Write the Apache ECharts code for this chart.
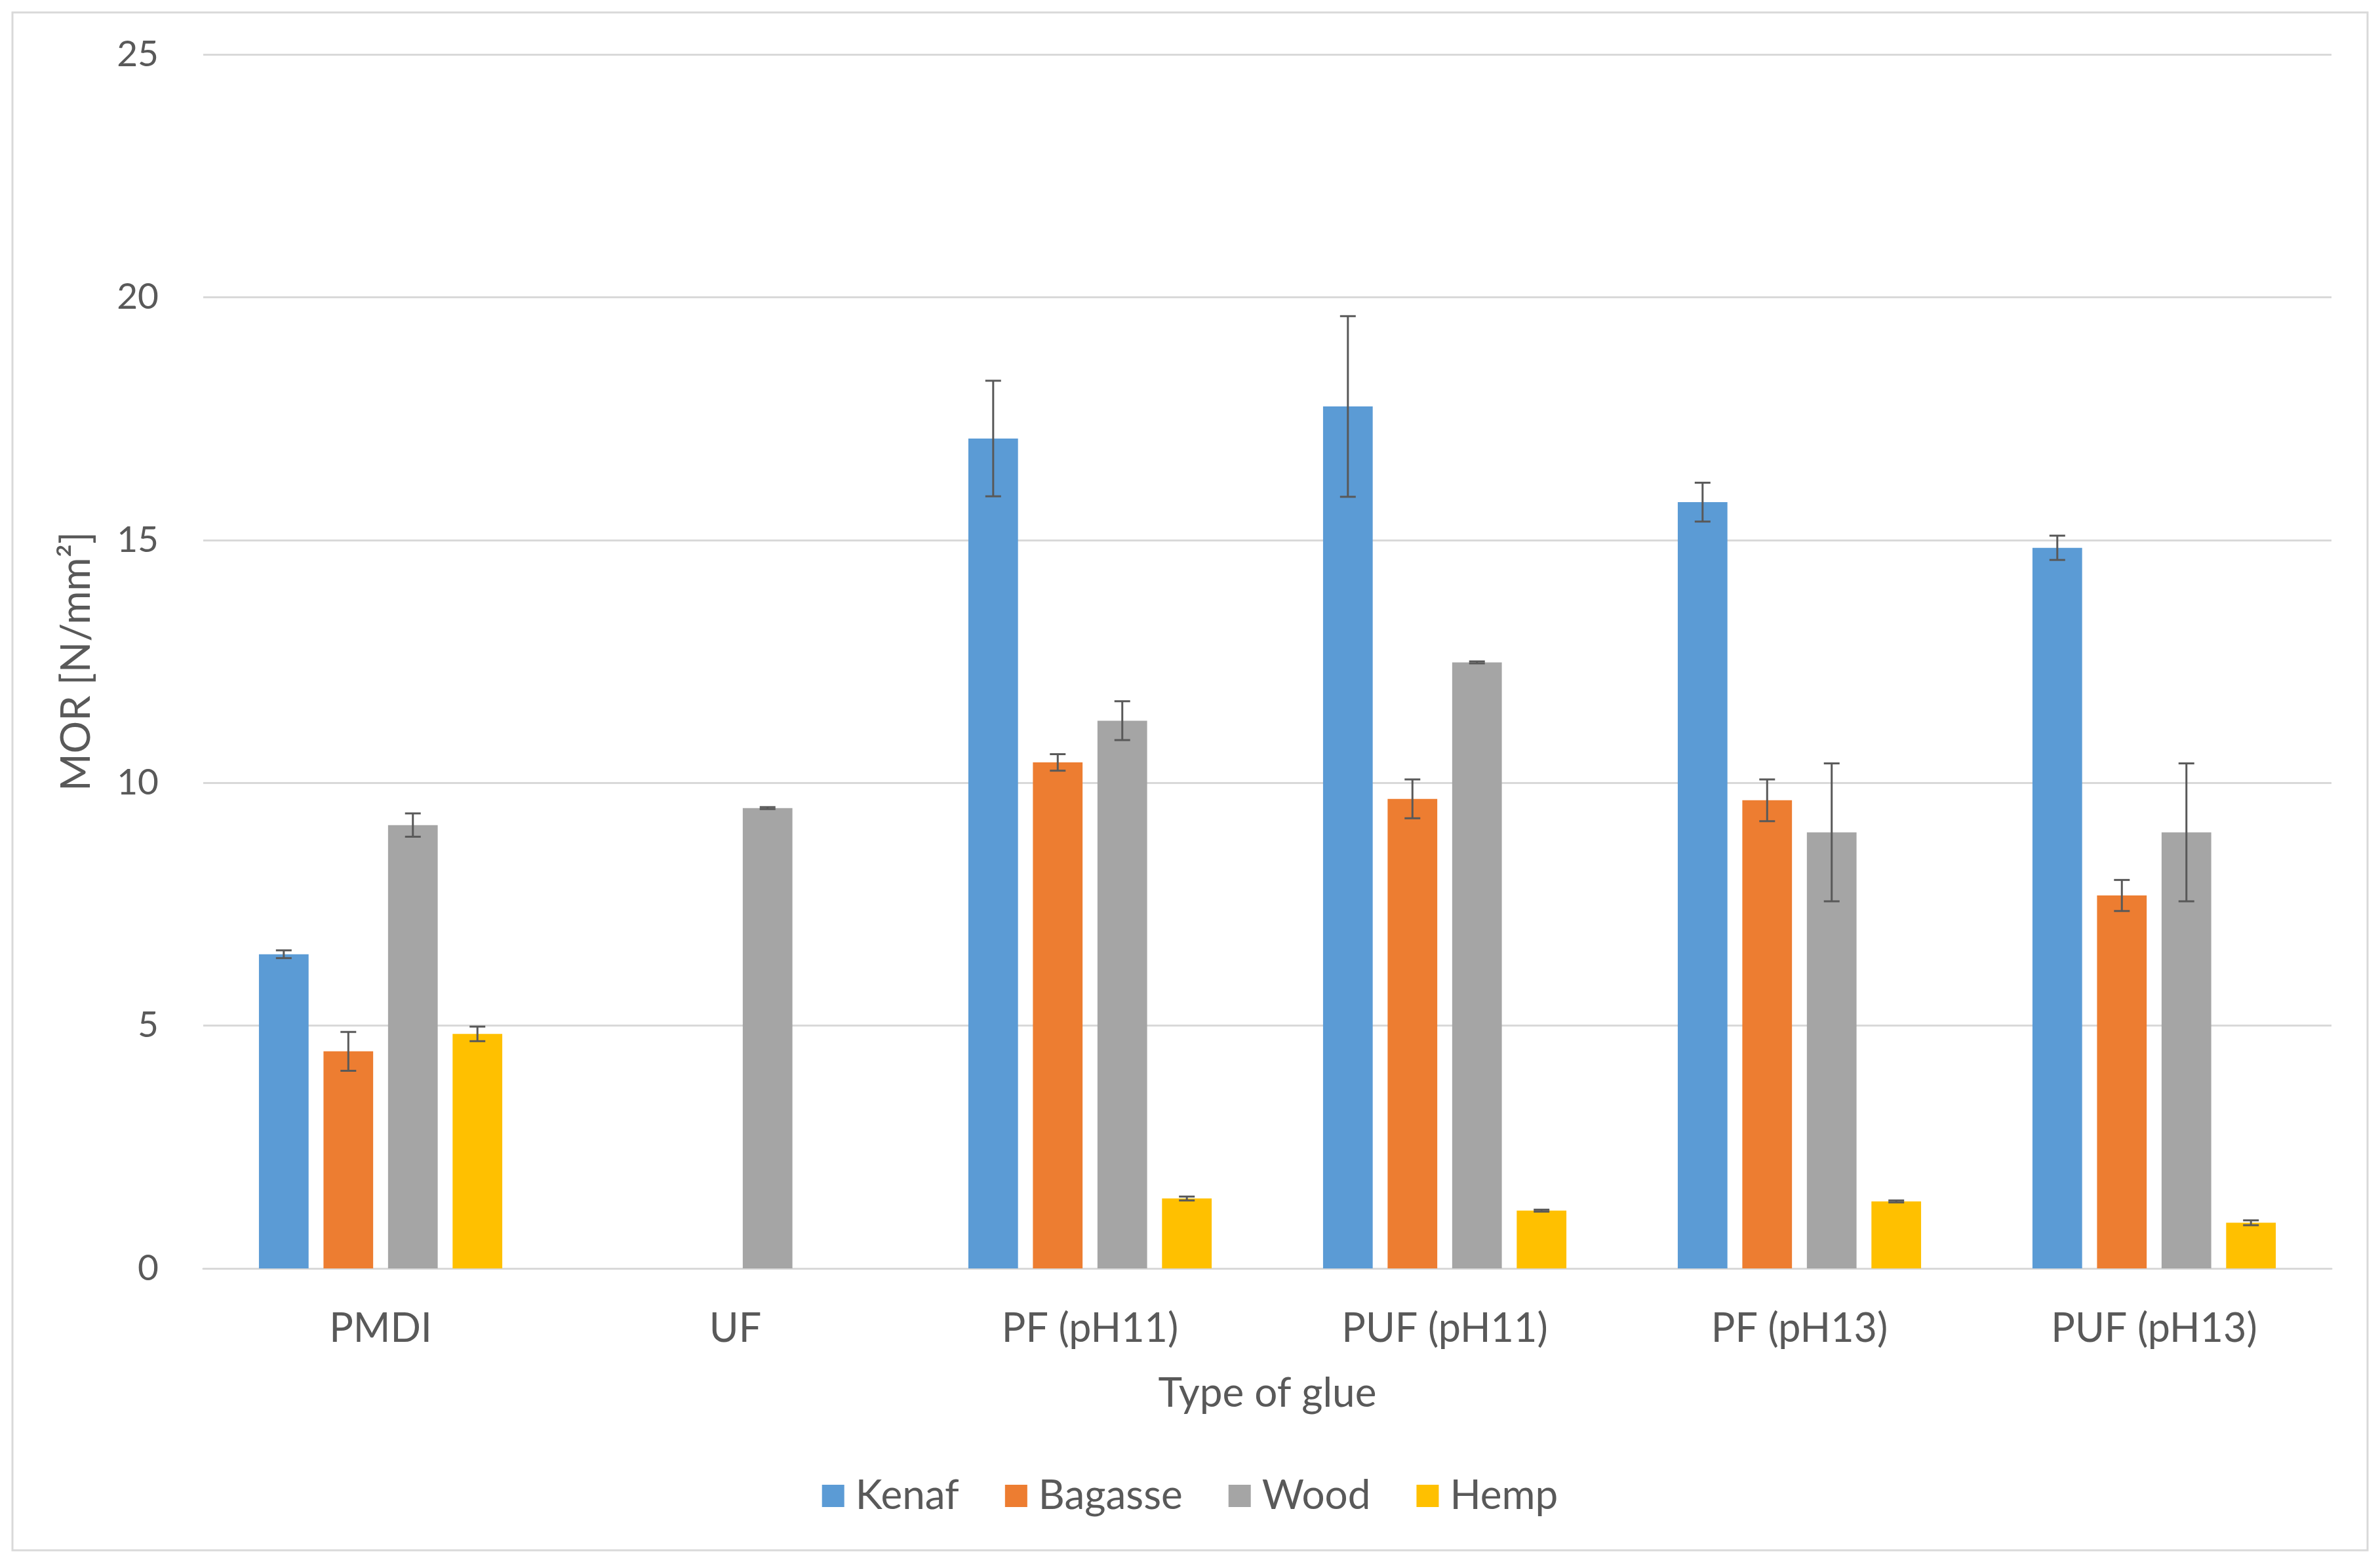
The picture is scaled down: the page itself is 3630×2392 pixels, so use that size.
<!DOCTYPE html>
<html>
<head>
<meta charset="utf-8">
<script src="https://cdn.jsdelivr.net/npm/echarts@6/dist/echarts.min.js"></script>
<style>html,body{margin:0;padding:0;background:#fff}#c{width:3630px;height:2392px}</style>
</head>
<body>
<div id="c"></div>
<script>
const categories = ['PMDI', 'UF', 'PF (pH11)', 'PUF (pH11)', 'PF (pH13)', 'PUF (pH13)'];
const seriesNames = ['Kenaf', 'Bagasse', 'Wood', 'Hemp'];
const kenaf = [6.47, null, 17.09, 17.75, 15.78, 14.84];
const kenafErr = [0.08, null, 1.19, 1.86, 0.4, 0.25];
const bagasse = [4.47, null, 10.42, 9.67, 9.64, 7.68];
const bagasseErr = [0.4, null, 0.17, 0.4, 0.43, 0.32];
const wood = [9.13, 9.48, 11.28, 12.48, 8.98, 8.98];
const woodErr = [0.24, 0.02, 0.4, 0.02, 1.42, 1.42];
const hemp = [4.83, null, 1.44, 1.19, 1.38, 0.94];
const hempErr = [0.15, null, 0.04, 0.02, 0.02, 0.05];
const yTicks = [0, 5, 10, 15, 20, 25];

const values = [kenaf, bagasse, wood, hemp];
const errs = [kenafErr, bagasseErr, woodErr, hempErr];
const colors = ['#5b9bd5', '#ed7d31', '#a5a5a5', '#ffc000'];
const FONT = 'Lato';
const TXT = '#595959';
const BAR_FRAC = 0.14, GAP_FRAC = 0.3;

const chart = echarts.init(document.getElementById('c'));
const series = [];
values.forEach((v, i) => {
  series.push({
    name: seriesNames[i], type: 'bar', data: v,
    barWidth: (BAR_FRAC * 100) + '%', barGap: (GAP_FRAC * 100) + '%',
    itemStyle: { color: colors[i] }
  });
});
values.forEach((v, i) => {
  const data = [];
  v.forEach((val, k) => {
    if (val != null && errs[i][k] != null) data.push([k, val - errs[i][k], val + errs[i][k]]);
  });
  series.push({
    type: 'custom', name: seriesNames[i] + ' err', z: 10, silent: true,
    data: data,
    encode: { x: 0, y: [1, 2] },
    renderItem: function (params, api) {
      const band = api.size([1, 0])[0];
      const bw = band * BAR_FRAC;
      const step = bw * (1 + GAP_FRAC);
      const off = (i - 1.5) * step;
      const lo = api.coord([api.value(0), api.value(1)]);
      const hi = api.coord([api.value(0), api.value(2)]);
      const x = lo[0] + off;
      const cap = 12;
      const st = { stroke: '#595959', lineWidth: 3 };
      return {
        type: 'group',
        children: [
          { type: 'line', shape: { x1: x, y1: lo[1], x2: x, y2: hi[1] }, style: st },
          { type: 'line', shape: { x1: x - cap, y1: lo[1], x2: x + cap, y2: lo[1] }, style: st },
          { type: 'line', shape: { x1: x - cap, y1: hi[1], x2: x + cap, y2: hi[1] }, style: st }
        ]
      };
    }
  });
});

chart.setOption({
  animation: false,
  backgroundColor: '#fff',
  textStyle: { fontFamily: FONT, color: TXT },
  graphic: [{
    type: 'rect', shape: { x: 19, y: 19, width: 3592, height: 2346 },
    style: { fill: 'none', stroke: '#d9d9d9', lineWidth: 3 }, silent: true
  }],
  grid: { left: 310, right: 74, top: 83, bottom: 457 },
  legend: {
    data: seriesNames, bottom: 74, left: 'center',
    itemWidth: 34, itemHeight: 34, itemGap: 70, icon: 'rect',
    textStyle: { fontFamily: FONT, fontSize: 62, color: TXT, padding: [0, 0, 0, 12] }
  },
  xAxis: {
    type: 'category', data: categories,
    name: 'Type of glue', nameLocation: 'middle', nameGap: 160,
    nameTextStyle: { fontFamily: FONT, fontSize: 62, color: TXT },
    axisLine: { lineStyle: { color: '#d9d9d9', width: 3 } },
    axisTick: { show: false },
    axisLabel: { fontFamily: FONT, fontSize: 61, color: TXT, margin: 62 }
  },
  yAxis: {
    type: 'value', min: yTicks[0], max: yTicks[yTicks.length - 1], interval: 5,
    name: 'MOR [N/mm²]', nameLocation: 'middle', nameGap: 162, nameRotate: 90,
    nameTextStyle: { fontFamily: FONT, fontSize: 62, color: TXT },
    axisLine: { show: false }, axisTick: { show: false },
    axisLabel: { fontFamily: FONT, fontSize: 55, color: TXT, margin: 68 },
    splitLine: { lineStyle: { color: '#d9d9d9', width: 3 } }
  },
  series: series
});
</script>
</body>
</html>
